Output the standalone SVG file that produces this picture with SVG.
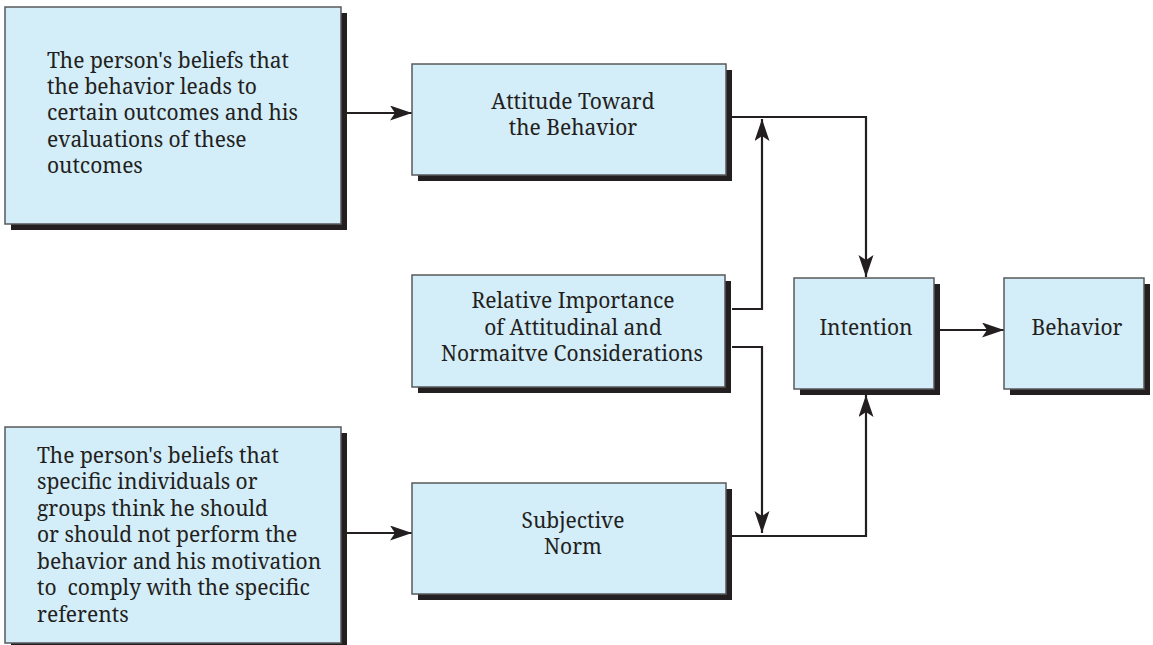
<svg xmlns="http://www.w3.org/2000/svg" width="1153" height="645" viewBox="0 0 1153 645">
<style>
.box{fill:#D3EDF9;stroke:#58595B;stroke-width:1.5}
.sh{fill:#231F20}
.t{font-size:21px;fill:#231F20}
.c{text-anchor:middle}
.ln{fill:none;stroke:#231F20;stroke-width:2.2;marker-end:url(#ah)}
</style>
<defs>
<marker id="ah" markerUnits="userSpaceOnUse" markerWidth="24" markerHeight="16" refX="22" refY="7.5" orient="auto">
<path d="M0,0 L22,7.5 L0,15 L5,7.5 z" fill="#231F20"/>
</marker>
</defs>
<g id="connectors">
<line class="ln" x1="347" y1="113" x2="412" y2="113"/>
<line class="ln" x1="347" y1="533" x2="412" y2="533"/>
<polyline class="ln" points="732,117 866,117 866,277"/>
<polyline class="ln" points="732,309 762,309 762,119"/>
<polyline class="ln" points="732,347 762,347 762,533"/>
<polyline class="ln" points="732,536 866,536 866,395"/>
<line class="ln" x1="940" y1="330" x2="1004" y2="330"/>
</g>
<g font-family="Noto Serif, Liberation Serif, serif">
<g id="beliefs-outcomes">
<rect class="sh" x="11" y="13" width="336" height="217"/>
<rect class="box" x="5" y="7" width="336" height="217"/>
<text class="t" x="47" y="68">The person's beliefs that</text>
<text class="t" x="47" y="94">the behavior leads to</text>
<text class="t" x="47" y="120">certain outcomes and his</text>
<text class="t" x="47" y="147">evaluations of these</text>
<text class="t" x="47" y="173">outcomes</text>
</g>
<g id="attitude">
<rect class="sh" x="418" y="70" width="314" height="111"/>
<rect class="box" x="412" y="64" width="314" height="111"/>
<text class="t c" x="573" y="109">Attitude Toward</text>
<text class="t c" x="573" y="135">the Behavior</text>
</g>
<g id="relative-importance">
<rect class="sh" x="418" y="281" width="313" height="112"/>
<rect class="box" x="412" y="275" width="313" height="112"/>
<text class="t c" x="573" y="308">Relative Importance</text>
<text class="t c" x="573" y="335">of Attitudinal and</text>
<text class="t c" x="572" y="361">Normaitve Considerations</text>
</g>
<g id="beliefs-referents">
<rect class="sh" x="11" y="433" width="336" height="217"/>
<rect class="box" x="5" y="427" width="336" height="216"/>
<text class="t" x="37" y="463">The person's beliefs that</text>
<text class="t" x="37" y="489">specific individuals or</text>
<text class="t" x="37" y="516">groups think he should</text>
<text class="t" x="37" y="542">or should not perform the</text>
<text class="t" x="37" y="569">behavior and his motivation</text>
<text class="t" x="37" y="595" xml:space="preserve">to  comply with the specific</text>
<text class="t" x="37" y="622">referents</text>
</g>
<g id="subjective-norm">
<rect class="sh" x="418" y="489" width="314" height="111"/>
<rect class="box" x="412" y="483" width="314" height="111"/>
<text class="t c" x="573" y="528">Subjective</text>
<text class="t c" x="573" y="554">Norm</text>
</g>
<g id="intention">
<rect class="sh" x="800" y="284" width="140" height="111"/>
<rect class="box" x="794" y="278" width="140" height="111"/>
<text class="t c" x="866" y="335">Intention</text>
</g>
<g id="behavior">
<rect class="sh" x="1010" y="284" width="140" height="111"/>
<rect class="box" x="1004" y="278" width="140" height="111"/>
<text class="t c" x="1077" y="335">Behavior</text>
</g>
</g>
</svg>
